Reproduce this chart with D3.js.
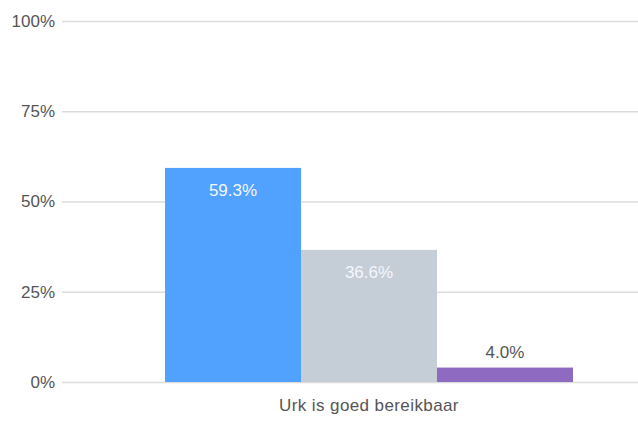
<!DOCTYPE html>
<html lang="nl">
<head>
<meta charset="UTF-8">
<title>Urk is goed bereikbaar</title>
<script src="https://cdn.jsdelivr.net/npm/d3@7"></script>
<style>
  body { margin: 0; background: #fff; }
  svg { font-family: "Liberation Sans", Arial, sans-serif; }
</style>
</head>
<body>
<svg width="638" height="421"></svg>
<script>
    var categories = ["Urk is goed bereikbaar"];
    var series = ["a", "b", "c"];
    var values = [59.3, 36.6, 4.0];
    var colors = ["#51a2ff", "#c5ced6", "#8e6bc0"];
    var ticks = [0, 25, 50, 75, 100];

    var svg = d3.select("svg");
    var plotLeft = 62, plotRight = 676, plotTop = 21, plotBottom = 382;

    var y = d3.scaleLinear().domain([0, 100]).range([plotBottom, plotTop]);
    var x0 = d3.scaleBand().domain(categories).range([plotLeft, plotRight]).paddingOuter(0.2525);
    var x1 = d3.scaleBand().domain(series).range([0, x0.bandwidth()]);

    // gridlines + tick labels
    var yAxis = svg.append("g")
        .attr("transform", "translate(" + plotLeft + ",0)")
        .call(d3.axisLeft(y).tickValues(ticks).tickSize(-(plotRight - plotLeft)).tickPadding(7)
            .tickFormat(function(d) { return d + "%"; }));
    yAxis.select(".domain").remove();
    yAxis.selectAll(".tick line").attr("stroke", "#dcdcdc").attr("stroke-width", 1.5);
    yAxis.selectAll(".tick text").attr("fill", "#555").style("font-size", "17px");

    // bars
    var g = svg.append("g").attr("transform", "translate(" + x0(categories[0]) + ",0)");
    g.selectAll("rect")
        .data(values)
        .enter()
        .append("rect")
        .attr("x", function(d, i) { return x1(series[i]); })
        .attr("y", function(d) { return y(d); })
        .attr("width", x1.bandwidth())
        .attr("height", function(d) { return plotBottom - y(d); })
        .attr("fill", function(d, i) { return colors[i]; });

    // value labels: inside if bar is tall enough, otherwise above
    g.selectAll("text.val")
        .data(values)
        .enter()
        .append("text")
        .attr("class", "val")
        .attr("text-anchor", "middle")
        .attr("x", function(d, i) { return x1(series[i]) + x1.bandwidth() / 2; })
        .attr("y", function(d) { return plotBottom - y(d) > 30 ? y(d) + 28 : y(d) - 10; })
        .attr("fill", function(d) { return plotBottom - y(d) > 30 ? "#f4f6ff" : "#555"; })
        .style("font-size", "17px")
        .text(function(d) { return d.toFixed(1) + "%"; });

    // category label
    svg.append("text")
        .attr("text-anchor", "middle")
        .attr("x", x0(categories[0]) + x0.bandwidth() / 2)
        .attr("y", 411)
        .attr("fill", "#555")
        .style("font-size", "17px")
        .style("letter-spacing", "0.4px")
        .text(categories[0]);
</script>
</body>
</html>
